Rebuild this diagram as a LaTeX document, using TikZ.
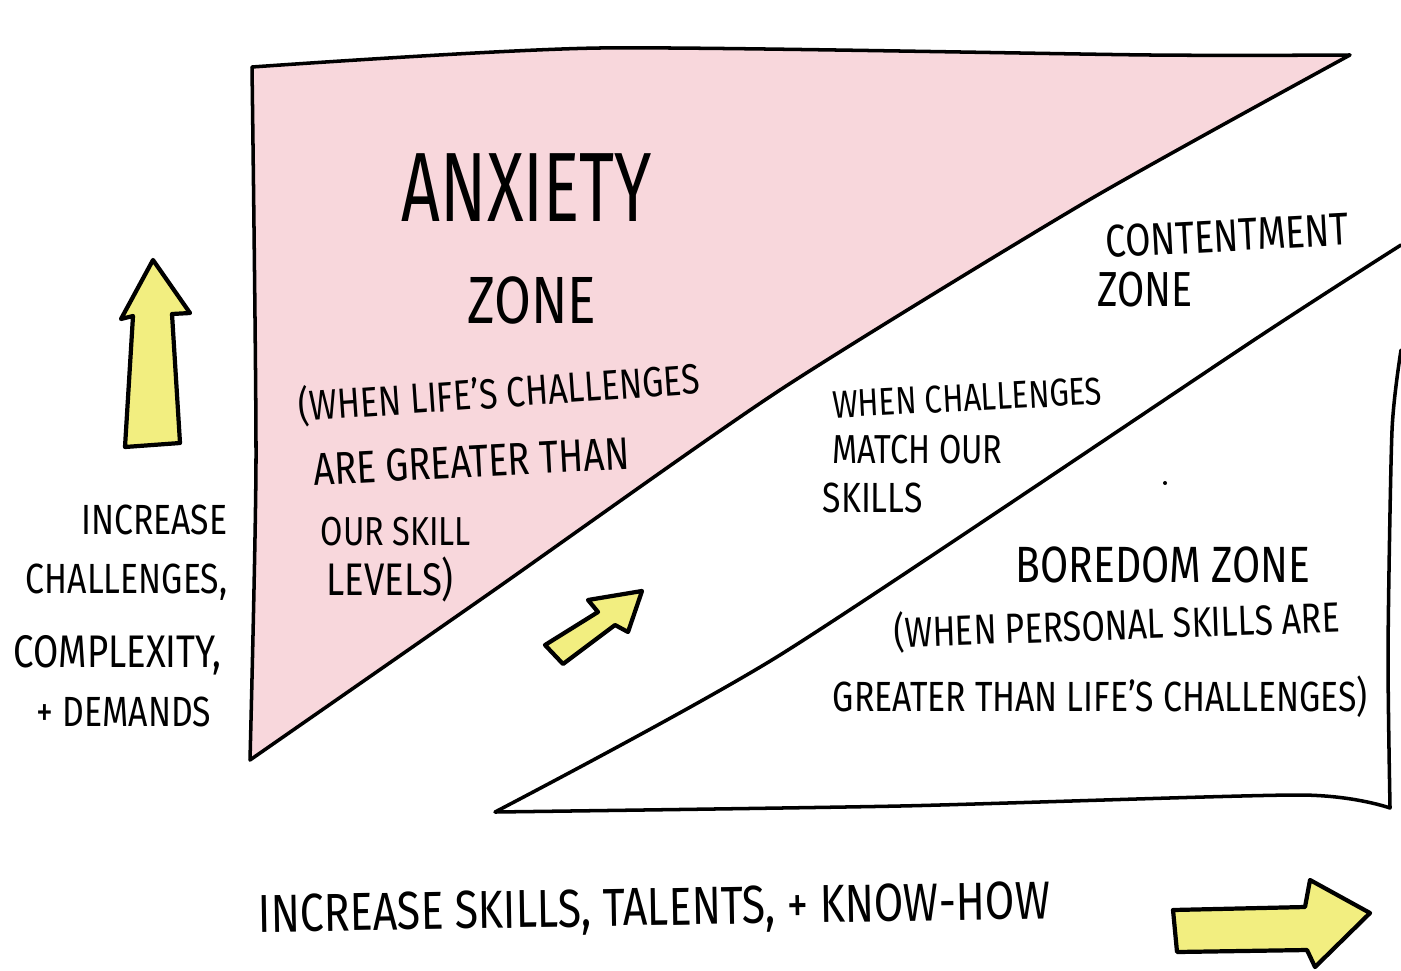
\documentclass[tikz,border=0pt]{standalone}
\usepackage{fontspec}
\setmainfont{Fira Sans}[FakeStretch=0.8]
\definecolor{anxietypink}{RGB}{248,215,220}
\definecolor{arrowyellow}{RGB}{242,238,128}

\begin{document}
\begin{tikzpicture}[x=0.01cm, y=-0.01cm,
    outline/.style={draw=black, line width=1pt, line join=round, line cap=round},
    bigarrow/.style={outline, fill=arrowyellow, line width=1.2pt},
    hand/.style={inner sep=0pt, anchor=west, font=\fontsize{#1}{#1}\selectfont},
    handr/.style={hand=#1, anchor=east}]
  \fill[white] (0,0) rectangle (1401,970);
  \useasboundingbox (0,0) rectangle (1401,970);

  % anxiety zone
  \filldraw[outline, fill=anxietypink]
    plot[smooth, tension=0.4] coordinates {(250,760) (256,460) (252,67)}
    -- plot[smooth, tension=0.4] coordinates {(252,67) (600,48) (1150,55) (1350,55)}
    -- plot[smooth, tension=0.4] coordinates {(1350,55) (1089,200) (780,390) (490,593) (250,760)}
    -- cycle;

  % boredom zone
  \draw[outline]
    plot[smooth, tension=0.4] coordinates {(1401,245) (1257,338) (780,655) (495,812)}
    -- plot[smooth, tension=0.4] coordinates {(495,812) (900,806) (1300,795) (1390,808)}
    -- plot[smooth, tension=0.4] coordinates {(1390,808) (1388,650) (1392,430) (1401,350)};
  \fill (1165,483) circle (2);

  % arrows
  \filldraw[bigarrow] (125,447) -- (133,316) -- (121,319) -- (153,260)
    -- (190,313) -- (172,314) -- (180,443) -- cycle;
  \filldraw[bigarrow] (545,645) -- (598,612) -- (588,600) -- (642,591)
    -- (628,632) -- (615,625) -- (563,664) -- cycle;
  \filldraw[bigarrow] (1173,910) -- (1305,907) -- (1310,880) -- (1370,913)
    -- (1315,967) -- (1307,950) -- (1177,952) -- cycle;

  % labels
  \node[hand=28pt, anchor=center] (anxiety) at (527,188) {\scalebox{0.86}[1]{ANXIETY}};
  \node[hand=19pt, anchor=center] (anxietyzone) at (532,300) {ZONE};
  \node[hand=12pt, rotate=4] (anxiety1) at (298,407) {(WHEN LIFE'S CHALLENGES};
  \node[hand=13pt, rotate=3] (anxiety2) at (313,470) {ARE GREATER THAN};
  \node[hand=11.5pt] (anxiety3) at (320,532) {OUR SKILL};
  \node[hand=13pt] (anxiety4) at (326,579) {LEVELS)};

  \node[hand=13pt, rotate=3] (content) at (1105,242) {CONTENTMENT};
  \node[hand=14pt] (contentzone) at (1097,290) {ZONE};
  \node[hand=11pt, rotate=3] (content1) at (832,405) {WHEN CHALLENGES};
  \node[hand=11.5pt] (content2) at (832,450) {MATCH OUR};
  \node[hand=12pt] (content3) at (822,498) {SKILLS};

  \node[hand=14.5pt] (boredom) at (1015,565) {BOREDOM ZONE};
  \node[hand=12pt, rotate=2] (boredom1) at (893,633) {(WHEN PERSONAL SKILLS ARE};
  \node[hand=12pt] (boredom2) at (832,697) {GREATER THAN LIFE'S CHALLENGES)};

  \node[handr=12pt] (yaxis1) at (228,520) {INCREASE};
  \node[handr=12pt] (yaxis2) at (228,582) {CHALLENGES,};
  \node[handr=13pt] (yaxis3) at (222,655) {COMPLEXITY,};
  \node[handr=12pt] (yaxis4) at (212,712) {+ DEMANDS};

  \node[hand=15.2pt, rotate=1] (xaxis) at (258,918) {INCREASE SKILLS, TALENTS, + KNOW-HOW};
\end{tikzpicture}
\end{document}
